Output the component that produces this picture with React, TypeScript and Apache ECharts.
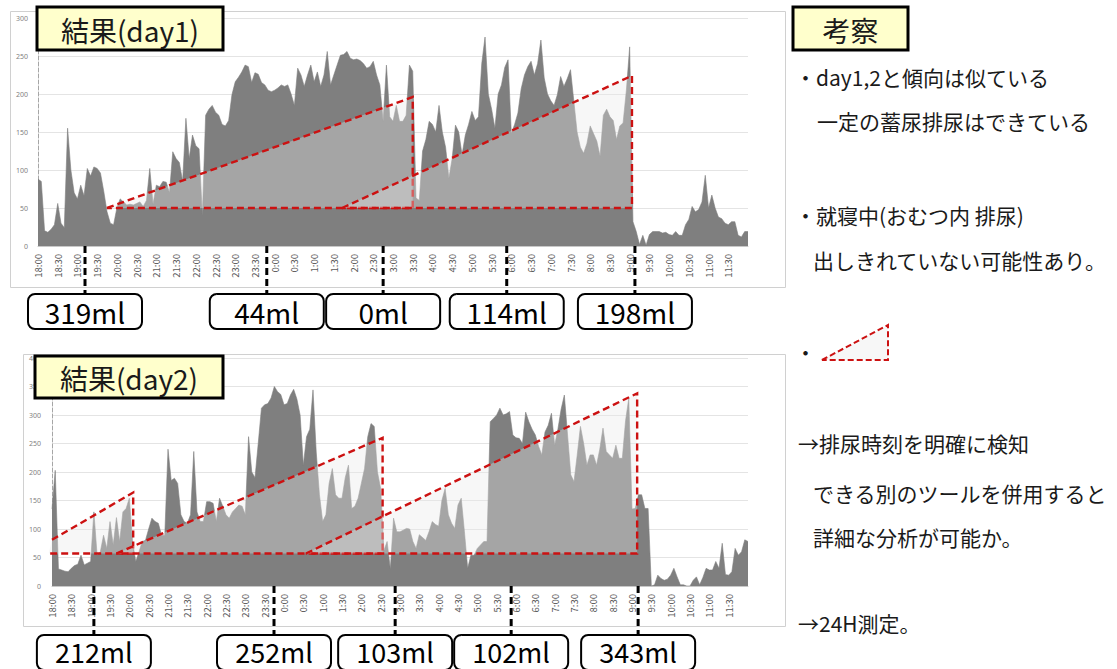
import React, { useEffect, useRef } from 'react';
import * as echarts from 'echarts';

const FONT = '"Noto Sans CJK JP", "Noto Sans", sans-serif';

// x labels every 30 min (one label every 6 five-minute samples)
const timeLabels = ['18:00','18:30','19:00','19:30','20:00','20:30','21:00','21:30','22:00','22:30','23:00','23:30','0:00','0:30','1:00','1:30','2:00','2:30','3:00','3:30','4:00','4:30','5:00','5:30','6:00','6:30','7:00','7:30','8:00','8:30','9:00','9:30','10:00','10:30','11:00','11:30'];

// day1 values, 5-minute steps from 18:00 to 12:00
const day1Values = [
  88, 85, 20, 18, 22, 28, 56, 30, 24, 155,
  100, 70, 62, 80, 66, 102, 92, 104, 102, 96,
  72, 45, 30, 28, 50, 62, 58, 54, 55, 54,
  56, 58, 52, 60, 102, 55, 80, 78, 85, 84,
  70, 124, 115, 110, 85, 168, 115, 146, 132, 128,
  40, 172, 180, 185, 176, 172, 160, 158, 165, 199,
  216, 222, 229, 238, 236, 215, 228, 226, 215, 212,
  205, 203, 205, 208, 212, 210, 212, 200, 185, 234,
  225, 210, 225, 238, 216, 229, 210, 225, 256, 212,
  225, 238, 251, 252, 256, 247, 245, 246, 244, 240,
  234, 236, 243, 225, 212, 164, 238, 170, 164, 185,
  164, 164, 172, 238, 230, 63, 60, 125, 140, 164,
  160, 150, 185, 150, 130, 89, 115, 159, 150, 120,
  146, 160, 177, 165, 170, 240, 275, 200, 180, 155,
  200, 212, 235, 245, 148, 160, 175, 207, 225, 236,
  243, 225, 240, 271, 221, 200, 191, 185, 199, 223,
  210, 220, 232, 191, 150, 130, 122, 135, 158, 148,
  138, 118, 172, 180, 170, 165, 140, 158, 162, 205,
  262, 32, 19, 2, 14, 1, 15, 19, 19, 19,
  17, 18, 15, 14, 19, 14, 14, 28, 35, 52,
  45, 48, 58, 93, 50, 67, 50, 38, 36, 30,
  28, 32, 32, 14, 12, 19, 19,
];

// day2 values, 5-minute steps from 18:00 to 12:00
const day2Values = [
  135, 203, 30, 28, 26, 25, 31, 36, 38, 54,
  37, 40, 43, 130, 54, 60, 89, 66, 113, 72,
  120, 78, 130, 136, 154, 78, 43, 60, 78, 80,
  100, 119, 113, 110, 89, 89, 240, 185, 189, 180,
  125, 113, 110, 125, 236, 130, 113, 113, 148, 148,
  145, 113, 154, 140, 125, 119, 130, 136, 142, 140,
  125, 262, 200, 190, 250, 312, 318, 320, 330, 350,
  341, 336, 318, 320, 335, 345, 328, 300, 212, 262,
  275, 344, 235, 160, 113, 125, 180, 206, 160, 154,
  154, 190, 212, 136, 140, 154, 180, 206, 262, 285,
  280, 200, 171, 62, 78, 30, 119, 95, 95, 98,
  101, 100, 78, 66, 90, 85, 80, 95, 113, 108,
  105, 150, 171, 125, 110, 101, 142, 154, 95, 31,
  54, 54, 66, 72, 78, 78, 288, 294, 300, 312,
  300, 302, 306, 265, 260, 259, 250, 305, 288, 275,
  265, 245, 230, 270, 282, 303, 247, 275, 310, 335,
  265, 195, 183, 230, 280, 250, 212, 230, 230, 212,
  240, 277, 236, 230, 224, 247, 224, 224, 290, 329,
  135, 136, 160, 160, 136, 136, 0, 2, 19, 13,
  10, 12, 19, 31, 16, 2, 2, 0, 0, 10,
  16, 2, 15, 31, 28, 28, 43, 31, 75, 20,
  19, 25, 66, 54, 60, 81, 78,
];

// estimated bladder-filling shapes: vertices as [sample index, value]
const day1Shapes = [
  { pts: [[21, 50], [114, 196], [114, 50]], closed: true },
  { pts: [[92.5, 50], [180.7, 224], [180.7, 50]], closed: true },
];
const day2Shapes = [
  { pts: [[0, 81], [25.2, 164], [25.2, 57], [-1, 57]], closed: false },
  { pts: [[20, 57], [102.6, 260], [102.6, 57]], closed: true },
  { pts: [[78.8, 57], [181.6, 338], [181.6, 57]], closed: true },
];

// voiding events: sample index and volume
const day1VoidIdx = [14.3, 69.6, 105, 142.6, 181.6];
const day1VoidLabels = ['319ml', '44ml', '0ml', '114ml', '198ml'];
const day2VoidIdx = [13, 68.9, 106.5, 142.5, 181.9];
const day2VoidLabels = ['212ml', '252ml', '103ml', '102ml', '343ml'];

const notes = [
  { text: '・day1,2と傾向は似ている', x: 795, y: 77 },
  { text: '一定の蓄尿排尿はできている', x: 817, y: 121 },
  { text: '・就寝中(おむつ内 排尿)', x: 795, y: 215 },
  { text: '出しきれていない可能性あり。', x: 813, y: 260 },
  { text: '・', x: 795, y: 352 },
  { text: '→排尿時刻を明確に検知', x: 798, y: 443 },
  { text: 'できる別のツールを併用すると', x: 813, y: 493 },
  { text: '詳細な分析が可能か。', x: 813, y: 537 },
  { text: '→24H測定。', x: 798, y: 623 },
];

const RED = '#cc1111';

function xAxisFor(gridIndex: number) {
  return {
    type: 'value',
    gridIndex,
    min: 0,
    max: 216,
    interval: 6,
    axisLine: { show: true, lineStyle: { color: '#c8c8c8', width: 1 } },
    axisTick: { show: false },
    splitLine: { show: false },
    axisLabel: {
      rotate: 90,
      margin: 8,
      fontSize: 9.5,
      color: '#595959',
      fontFamily: FONT,
      showMaxLabel: false,
      formatter: (v: number) => timeLabels[Math.round(v / 6)] ?? '',
    },
  };
}

function yAxisFor(gridIndex: number, max: number, margin: number) {
  return {
    type: 'value',
    gridIndex,
    min: 0,
    max,
    interval: 50,
    axisLine: { show: true, lineStyle: { color: '#a6a6a6', type: 'dashed', width: 1 } },
    axisTick: { show: false },
    splitLine: { show: true, lineStyle: { color: '#e4e4e4', width: 1 } },
    axisLabel: { fontSize: 7, color: '#7f7f7f', margin, fontFamily: 'Noto Sans' },
  };
}

function areaSeries(idx: number, values: number[]) {
  return {
    type: 'line',
    xAxisIndex: idx,
    yAxisIndex: idx,
    data: values.map((v, i) => [i, v]),
    symbol: 'none',
    smooth: false,
    lineStyle: { width: 0.6, color: '#7f7f7f' },
    areaStyle: { color: '#7f7f7f', opacity: 1 },
    z: 2,
  };
}

function shapeSeries(idx: number, shapes: { pts: number[][]; closed: boolean }[]) {
  return {
    type: 'custom',
    xAxisIndex: idx,
    yAxisIndex: idx,
    clip: false,
    z: 3,
    data: shapes.map((_, k) => [k, 0]),
    renderItem: (params: any, api: any) => {
      const s = shapes[params.dataIndex];
      const pts = s.pts.map((p) => api.coord(p));
      return {
        type: 'group',
        children: [
          { type: 'polygon', shape: { points: pts }, style: { fill: 'rgba(232,232,232,0.36)', stroke: null } },
          {
            type: s.closed ? 'polygon' : 'polyline',
            shape: { points: pts },
            style: { fill: null, stroke: RED, lineWidth: 2.4, lineDash: [7, 4] },
          },
        ],
      };
    },
  };
}

function voidSeries(idx: number, positions: number[], labels: string[], drop: number, fontSize: number, textDy: number) {
  return {
    type: 'custom',
    xAxisIndex: idx,
    yAxisIndex: idx,
    clip: false,
    z: 5,
    data: positions.map((p) => [p, 0]),
    renderItem: (params: any, api: any) => {
      const [x, y] = api.coord([api.value(0), 0]);
      const label = labels[params.dataIndex];
      return {
        type: 'group',
        children: [
          {
            type: 'line',
            shape: { x1: x, y1: y, x2: x, y2: y + drop },
            style: { stroke: '#000', lineWidth: 3, lineDash: [7, 4] },
          },
          {
            type: 'rect',
            shape: { x: x - 57, y: y + drop, width: 114, height: 35, r: 7 },
            style: { fill: '#fff', stroke: '#000', lineWidth: 2 },
          },
          {
            type: 'text',
            style: {
              x,
              y: y + drop + textDy,
              text: label,
              fill: '#000',
              font: `${fontSize}px ${FONT}`,
              align: 'center',
              verticalAlign: 'middle',
              textAlign: 'center',
              textVerticalAlign: 'middle',
            },
          },
        ],
      };
    },
  };
}

function titleBox(x: number, y: number, w: number, h: number, text: string, size: number) {
  return {
    type: 'group',
    z: 100,
    children: [
      {
        type: 'rect',
        z: 100,
        shape: { x, y, width: w, height: h },
        style: { fill: '#ffffcc', stroke: '#000', lineWidth: 3 },
      },
      {
        type: 'text',
        z: 101,
        style: {
          x: x + w / 2,
          y: y + h / 2 + 1,
          text,
          fill: '#1a1a1a',
          font: `${size}px ${FONT}`,
          align: 'center',
          verticalAlign: 'middle',
          textAlign: 'center',
          textVerticalAlign: 'middle',
        },
      },
    ],
  };
}

export default function App() {
  const ref = useRef<HTMLDivElement>(null);
  useEffect(() => {
    if (!ref.current) return;
    const chart = echarts.init(ref.current, null, { renderer: 'svg' });
    const graphic: any[] = [
      {
        type: 'rect',
        z: -1,
        shape: { x: 10.5, y: 11.5, width: 775, height: 276 },
        style: { fill: null, stroke: '#d0d0d0', lineWidth: 1 },
      },
      {
        type: 'rect',
        z: -1,
        shape: { x: 23.5, y: 354.5, width: 762, height: 272 },
        style: { fill: null, stroke: '#d0d0d0', lineWidth: 1 },
      },
      titleBox(37, 7, 186, 43, '結果(day1)', 28),
      titleBox(35, 356, 188, 42, '結果(day2)', 28),
      titleBox(793, 7, 115, 43, '考察', 28),
      ...notes.map((n) => ({
        type: 'text',
        z: 50,
        style: {
          x: n.x,
          y: n.y,
          text: n.text,
          fill: '#1a1a1a',
          font: `21px ${FONT}`,
          verticalAlign: 'middle',
          textVerticalAlign: 'middle',
        },
      })),
      {
        type: 'polygon',
        z: 50,
        shape: { points: [[822, 360], [888, 325], [888, 360]] },
        style: { fill: '#f7f7f7', stroke: RED, lineWidth: 2, lineDash: [6, 3] },
      },
    ];

    chart.setOption({
      animation: false,
      backgroundColor: '#ffffff',
      grid: [
        { left: 38, top: 18, width: 710, height: 228, containLabel: false },
        { left: 52, top: 358, width: 696, height: 228, containLabel: false },
      ],
      xAxis: [xAxisFor(0), xAxisFor(1)],
      yAxis: [yAxisFor(0, 300, 10), yAxisFor(1, 400, 11)],
      series: [
        areaSeries(0, day1Values),
        areaSeries(1, day2Values),
        shapeSeries(0, day1Shapes),
        shapeSeries(1, day2Shapes),
        voidSeries(0, day1VoidIdx, day1VoidLabels, 48, 28, 18),
        voidSeries(1, day2VoidIdx, day2VoidLabels, 49, 27, 16),
      ],
      graphic,
    });
    return () => chart.dispose();
  }, []);
  return (
    <div
      ref={ref}
      style={{ position: 'absolute', left: 0, top: 0, width: 1117, height: 669, background: '#fff' }}
    />
  );
}
